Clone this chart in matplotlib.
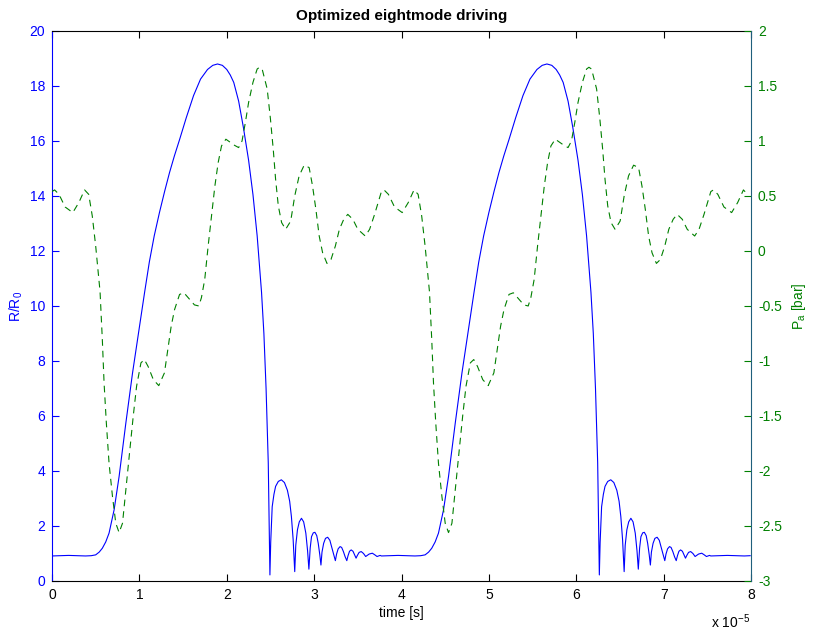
import numpy as np
import matplotlib.pyplot as plt

plt.rcParams['font.family'] = ['Liberation Sans', 'DejaVu Sans']
plt.rcParams['font.size'] = 10
plt.rcParams['mathtext.fontset'] = 'custom'
plt.rcParams['mathtext.rm'] = 'Liberation Sans'
plt.rcParams['mathtext.it'] = 'Liberation Sans:italic'

# one driving period (time in units of 1e-5 s)
PERIOD = 3.77

t_radius = [0.0, 0.1, 0.19, 0.3, 0.384, 0.45, 0.5, 0.54, 0.576, 0.615, 0.653,
            0.711, 0.768, 0.845, 0.922, 1.007, 1.06, 1.114, 1.17, 1.23, 1.29,
            1.345, 1.40, 1.46, 1.537, 1.62, 1.7, 1.78, 1.84, 1.894, 1.95, 2.0,
            2.04, 2.08, 2.136, 2.19, 2.25, 2.3, 2.348, 2.398, 2.425, 2.45, 2.475,
            2.494,
            2.503, 2.52, 2.54, 2.559, 2.59, 2.625, 2.66, 2.694, 2.72, 2.74, 2.76,
            2.778,
            2.79, 2.809, 2.83, 2.855, 2.88, 2.905, 2.925, 2.94,
            2.955, 2.97, 2.99, 3.009, 3.03, 3.047, 3.065, 3.078,
            3.09, 3.109, 3.13, 3.155, 3.18, 3.2, 3.225, 3.243,
            3.257, 3.275, 3.297, 3.315, 3.335, 3.355, 3.374,
            3.388, 3.405, 3.424, 3.445, 3.463, 3.48,
            3.495, 3.515, 3.539, 3.565, 3.59,
            3.63, 3.666, 3.695, 3.72, 3.755]
r_radius = [0.91, 0.92, 0.93, 0.92, 0.91, 0.92, 0.95, 1.05, 1.19, 1.42, 1.74,
            2.59, 3.8, 5.74, 7.57, 9.39, 10.5, 11.6, 12.55, 13.4, 14.18,
            14.85, 15.45, 16.05, 16.85, 17.65, 18.25, 18.6, 18.75, 18.8, 18.75, 18.6,
            18.4, 18.13, 17.45, 16.5, 15.3, 14.05, 12.55, 10.5, 9.0, 7.0, 4.3,
            0.22,
            1.4, 2.7, 3.15, 3.44, 3.62, 3.68, 3.58, 3.3, 2.9, 2.34, 1.5,
            0.34,
            1.3, 1.86, 2.15, 2.28, 2.15, 1.74, 1.1, 0.43,
            1.2, 1.61, 1.75, 1.77, 1.65, 1.37, 0.95, 0.58,
            1.05, 1.37, 1.55, 1.59, 1.48, 1.25, 0.95, 0.74,
            0.98, 1.17, 1.25, 1.22, 1.07, 0.88, 0.74,
            0.92, 1.08, 1.13, 1.08, 0.95, 0.83,
            0.93, 1.04, 1.07, 1.0, 0.89,
            0.98, 1.01, 0.95, 0.89, 0.93]

t_pressure = [0.0, 0.03, 0.08, 0.15, 0.238, 0.307, 0.373, 0.42, 0.461, 0.5, 0.53,
              0.55, 0.576, 0.596, 0.622, 0.653, 0.692, 0.73, 0.768, 0.807, 0.845,
              0.891, 0.93, 0.968, 1.018, 1.057, 1.1, 1.16, 1.222, 1.287, 1.326,
              1.364, 1.403, 1.46, 1.51, 1.576, 1.63, 1.68, 1.71, 1.748, 1.787,
              1.825, 1.864, 1.902, 1.94, 1.99, 2.044, 2.09, 2.136, 2.175, 2.213,
              2.25, 2.3, 2.348, 2.375, 2.405, 2.463, 2.5, 2.532, 2.559, 2.59,
              2.628, 2.674, 2.732, 2.778, 2.828, 2.886, 2.943, 2.982, 3.02, 3.058,
              3.097, 3.147, 3.193, 3.243, 3.289, 3.339, 3.385, 3.443, 3.5, 3.585,
              3.635, 3.692, 3.75]
p_pressure = [0.54, 0.555, 0.515, 0.40, 0.349, 0.44, 0.555, 0.515, 0.318, 0.045, -0.2,
              -0.37, -0.805, -1.2, -1.564, -1.93, -2.23, -2.475, -2.56, -2.475, -2.17,
              -1.807, -1.5, -1.23, -1.017, -0.987, -1.05, -1.17, -1.224, -1.108, -0.896,
              -0.684, -0.532, -0.395, -0.38, -0.44, -0.49, -0.5, -0.425, -0.259, 0.045,
              0.318, 0.59, 0.804, 0.955, 1.016, 0.986, 0.96, 0.94, 1.0, 1.168,
              1.35, 1.533, 1.654, 1.67, 1.654, 1.472, 1.2, 0.925, 0.652, 0.41,
              0.258, 0.197, 0.272, 0.5, 0.682, 0.78, 0.758, 0.59, 0.379, 0.136,
              -0.016, -0.113, -0.077, 0.045, 0.197, 0.288, 0.333, 0.288, 0.197, 0.136,
              0.197, 0.333, 0.485]


def repeat_period(t, y, t_end=8.0):
    # the driving is periodic: lay the measured period end to end
    n = int(np.ceil(t_end / PERIOD)) + 1
    tt = np.concatenate([np.asarray(t) + k * PERIOD for k in range(n)])
    yy = np.tile(y, n)
    keep = tt <= t_end
    return tt[keep], yy[keep]


tr, rr = repeat_period(t_radius, r_radius)
tp, pp = repeat_period(t_pressure, p_pressure)

green = '#008000'
fig = plt.figure(figsize=(8.15, 6.36), dpi=100)
ax = fig.add_axes([0.0638, 0.0865, 0.8577, 0.8648])
ax2 = ax.twinx()

ax.plot(tr, rr, color='blue', lw=0.8)
ax2.plot(tp, pp, color=green, lw=0.8, dashes=(6, 4.5))

ax.set_xlim(0, 8)
ax.set_ylim(0, 20)
ax2.set_ylim(-3, 2)
ax.set_xticks(range(0, 9))
ax.set_yticks(range(0, 21, 2))
ax2.set_yticks(np.arange(-3, 2.01, 0.5))
ax2.set_yticklabels(['%g' % v for v in np.arange(-3, 2.01, 0.5)])

ax.tick_params(axis='x', direction='in', length=5, top=True, pad=5)
ax.tick_params(axis='y', direction='in', length=5, colors='blue', pad=5)
ax2.tick_params(axis='y', direction='in', length=5, colors=green, pad=5)

ax.spines['left'].set_color('blue')
ax.spines['right'].set_visible(False)
for s in ['left', 'top', 'bottom']:
    ax2.spines[s].set_visible(False)
ax2.spines['right'].set_color('#1f5f7c')

ax.set_title('Optimized eightmode driving', fontweight='bold', fontsize=11, pad=8)
ax.set_xlabel('time [s]', labelpad=3)
ax.set_ylabel('R/R$_0$', color='blue', labelpad=3)
ax2.set_ylabel('P$_\\mathrm{a}$ [bar]', color=green, labelpad=6)
fig.text(0.872, 0.012, 'x 10$^{-5}$', fontsize=10)

fig.savefig('out.png', dpi=100)
